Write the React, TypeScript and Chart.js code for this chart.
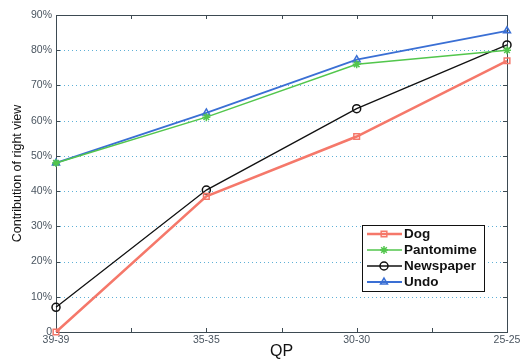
import React, { useEffect, useRef } from "react";
import { Chart, registerables } from "chart.js";
import { drawPoint } from "chart.js/helpers";

Chart.register(...registerables);

const categories = ["39-39", "35-35", "30-30", "25-25"];
const yTicks = [0, 10, 20, 30, 40, 50, 60, 70, 80, 90];
const yTickLabels = ["0", "10%", "20%", "30%", "40%", "50%", "60%", "70%", "80%", "90%"];
const dogValues = [0, 38.5, 55.5, 77];
const pantomimeValues = [48, 61, 76, 80];
const newspaperValues = [7, 40.3, 63.4, 81.5];
const undoValues = [48, 62.2, 77.3, 85.5];
const seriesNames = ["Dog", "Pantomime", "Newspaper", "Undo"];

const FONT = "'Liberation Sans', Arial, sans-serif";

const frame = {
  id: "frame",
  beforeDatasetsDraw(chart: any) {
    const { ctx, chartArea: a, scales } = chart;
    const xs = scales.x;
    const ys = scales.y;
    ctx.save();
    ctx.strokeStyle = "#5fb0d6";
    ctx.lineWidth = 1;
    ctx.setLineDash([1, 3]);
    yTicks.forEach((v) => {
      if (v === 0 || v === 90) return;
      const y = Math.round(ys.getPixelForValue(v)) + 0.5;
      ctx.beginPath();
      ctx.moveTo(a.left, y);
      ctx.lineTo(a.right, y);
      ctx.stroke();
    });
    ctx.setLineDash([]);
    ctx.strokeStyle = "#3d4a52";
    ctx.lineWidth = 1;
    ctx.strokeRect(Math.round(a.left) + 0.5, Math.round(a.top) + 0.5, Math.round(a.right - a.left), Math.round(a.bottom - a.top));
    for (let v = 0; v <= categories.length - 1; v += 0.5) {
      const x = Math.round(xs.getPixelForValue(v)) + 0.5;
      ctx.beginPath();
      ctx.moveTo(x, a.bottom);
      ctx.lineTo(x, a.bottom - 4);
      ctx.moveTo(x, a.top);
      ctx.lineTo(x, a.top + 4);
      ctx.stroke();
    }
    yTicks.forEach((v) => {
      const y = Math.round(ys.getPixelForValue(v)) + 0.5;
      ctx.beginPath();
      ctx.moveTo(a.right, y);
      ctx.lineTo(a.right - 4, y);
      ctx.moveTo(a.left, y);
      ctx.lineTo(a.left + 4, y);
      ctx.stroke();
    });
    ctx.restore();
  },
  afterDraw(chart: any) {
    const { ctx, chartArea: a } = chart;
    ctx.save();
    ctx.fillStyle = "#111";
    ctx.font = `12.5px ${FONT}`;
    ctx.textAlign = "center";
    ctx.textBaseline = "middle";
    ctx.translate(18, (a.top + a.bottom) / 2);
    ctx.rotate(-Math.PI / 2);
    ctx.fillText("Contribution of right view", 0, 0);
    ctx.restore();
    ctx.save();
    ctx.fillStyle = "#111";
    ctx.font = `16px ${FONT}`;
    ctx.textAlign = "center";
    ctx.textBaseline = "middle";
    ctx.fillText("QP", (a.left + a.right) / 2, 352);
    const bx = 362, by = 225, bw = 122, bh = 66;
    ctx.fillStyle = "#fff";
    ctx.fillRect(bx, by, bw, bh);
    ctx.strokeStyle = "#111";
    ctx.lineWidth = 1;
    ctx.strokeRect(bx + 0.5, by + 0.5, bw, bh);
    chart.data.datasets.forEach((ds: any, i: number) => {
      const y = by + 9 + i * 16;
      ctx.strokeStyle = ds.borderColor;
      ctx.lineWidth = ds.borderWidth;
      ctx.beginPath();
      ctx.moveTo(367, y);
      ctx.lineTo(402, y);
      ctx.stroke();
      ctx.fillStyle = "rgba(0,0,0,0)";
      ctx.lineWidth = 1.5;
      drawPoint(ctx, {
        pointStyle: ds.pointStyle,
        radius: ds.pointRadius,
        borderWidth: 1.5,
        rotation: 0,
      } as any, 384, y);
      ctx.fillStyle = "#111";
      ctx.font = `bold 13.5px ${FONT}`;
      ctx.textAlign = "left";
      ctx.textBaseline = "middle";
      ctx.fillText(ds.label, 404, y + 0.5);
    });
    ctx.restore();
  },
};

function makeSet(label: string, values: number[], color: string, style: string, width: number) {
  return {
    label,
    data: values.map((v, i) => ({ x: i, y: v })),
    borderColor: color,
    backgroundColor: "rgba(0,0,0,0)",
    pointBackgroundColor: "rgba(0,0,0,0)",
    pointBorderColor: color,
    pointStyle: style,
    pointRadius: 4,
    pointBorderWidth: 1.5,
    borderWidth: width,
    tension: 0,
    clip: false,
  };
}

export default function App() {
  const ref = useRef<HTMLCanvasElement>(null);
  useEffect(() => {
    document.body.style.margin = "0";
    const chart = new Chart(ref.current as HTMLCanvasElement, {
      type: "line",
      data: {
        datasets: [
          makeSet(seriesNames[0], dogValues, "#f5786a", "rect", 2.5),
          makeSet(seriesNames[1], pantomimeValues, "#52c64c", "star", 1.5),
          makeSet(seriesNames[2], newspaperValues, "#111111", "circle", 1.3),
          makeSet(seriesNames[3], undoValues, "#3a6fd4", "triangle", 1.8),
        ] as any,
      },
      options: {
        animation: false,
        responsive: false,
        maintainAspectRatio: false,
        layout: { padding: { top: 15, right: 13, left: 0, bottom: 0 } },
        plugins: { legend: { display: false }, tooltip: { enabled: false } },
        scales: {
          x: {
            type: "linear",
            min: 0,
            max: categories.length - 1,
            grid: { display: false, drawTicks: false },
            border: { display: false },
            ticks: {
              stepSize: 1,
              autoSkip: false,
              maxRotation: 0,
              padding: 2,
              color: "#4a5560",
              font: { family: FONT, size: 10.5 },
              callback: (v: any) => (Number.isInteger(v) ? categories[v] : ""),
            },
            afterFit: (s: any) => {
              s.height = 28;
              s.paddingLeft = 0;
              s.paddingRight = 0;
            },
          },
          y: {
            min: 0,
            max: 90,
            grid: { display: false, drawTicks: false },
            border: { display: false },
            ticks: {
              stepSize: 10,
              padding: 4,
              color: "#4a5560",
              font: { family: FONT, size: 10.5 },
              callback: (v: any) => yTickLabels[yTicks.indexOf(v)] ?? "",
            },
            afterFit: (s: any) => {
              s.width = 56;
              s.paddingTop = 0;
              s.paddingBottom = 0;
            },
          },
        },
      },
      plugins: [frame],
    });
    return () => chart.destroy();
  }, []);
  return (
    <div style={{ position: "absolute", left: 0, top: 0, width: 520, height: 360, background: "#fff" }}>
      <canvas ref={ref} width={520} height={360} style={{ width: 520, height: 360 }} />
    </div>
  );
}
